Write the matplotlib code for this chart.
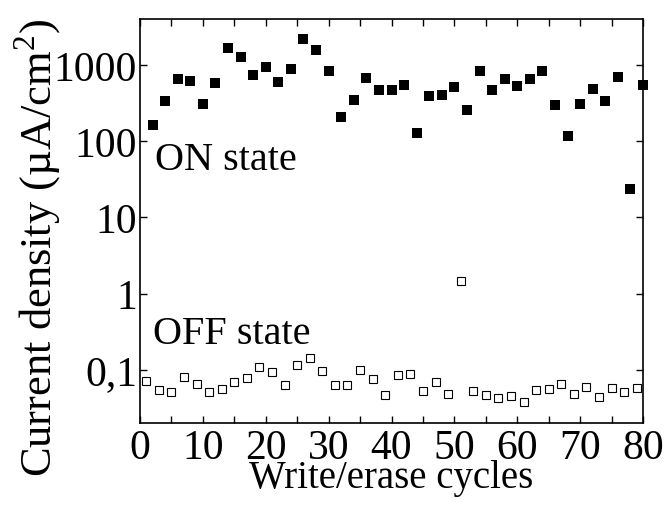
import matplotlib
matplotlib.use("Agg")
import matplotlib.pyplot as plt
from matplotlib.ticker import FixedLocator, FixedFormatter, LogLocator, NullFormatter, MultipleLocator

plt.rcParams['font.family'] = ['Liberation Serif', 'DejaVu Serif']
plt.rcParams['mathtext.fontset'] = 'custom'
plt.rcParams['mathtext.rm'] = 'Liberation Serif'

on_cycles = list(range(2, 81, 2))
on_values = [165, 339, 644, 618, 307, 577, 1650, 1259, 741, 942,
             594, 887, 2163, 1553, 843, 210, 346, 664, 468, 462,
             537, 126, 386, 402, 506, 254, 827, 472, 650, 527,
             657, 843, 295, 117, 307, 482, 333, 684, 23.7, 537]

off_cycles = list(range(1, 80, 2))
off_values = [0.0705, 0.0548, 0.0516, 0.081, 0.065, 0.0506, 0.056, 0.0684, 0.0778, 0.110,
              0.094, 0.063, 0.114, 0.142, 0.095, 0.0637, 0.063, 0.098, 0.0755, 0.0468,
              0.086, 0.087, 0.052, 0.069, 0.048, 1.45, 0.052, 0.046, 0.042, 0.0454,
              0.0375, 0.0548, 0.0565, 0.0644, 0.0487, 0.0594, 0.0436, 0.0577, 0.0516, 0.0583]

x_ticks = [0, 10, 20, 30, 40, 50, 60, 70, 80]
y_ticks = [0.1, 1, 10, 100, 1000]
y_tick_labels = ['0,1', '1', '10', '100', '1000']

fig = plt.figure(figsize=(6.65, 5.1), dpi=100)
ax = fig.add_axes([140/665, 86/510, 503/665, 404/510])

ax.plot(on_cycles, on_values, linestyle='none', marker='s', markersize=6.8,
        color='black', markeredgewidth=0, clip_on=False)
ax.plot(off_cycles, off_values, linestyle='none', marker='s', markersize=6.0,
        markerfacecolor='white', markeredgecolor='black', markeredgewidth=0.8, clip_on=False)

ax.set_yscale('log')
ax.set_xlim(0, 80)
ax.set_ylim(0.02, 4000)

ax.xaxis.set_major_locator(FixedLocator(x_ticks))
ax.xaxis.set_minor_locator(MultipleLocator(5))
ax.yaxis.set_major_locator(FixedLocator(y_ticks))
ax.yaxis.set_major_formatter(FixedFormatter(y_tick_labels))
ax.yaxis.set_minor_locator(LogLocator(base=10, subs=range(2, 10)))
ax.yaxis.set_minor_formatter(NullFormatter())

ax.tick_params(which='both', direction='in', top=True, right=True, width=1)
ax.tick_params(which='major', length=5, labelsize=30)
ax.tick_params(which='minor', length=3)
ax.tick_params(axis='x', which='minor', length=5)
ax.tick_params(axis='x', pad=4)
ax.tick_params(axis='y', pad=2)

for s in ax.spines.values():
    s.set_linewidth(1.2)

ax.text(2.4, 43, 'ON state', fontsize=29, ha='left', va='baseline')
ax.text(2.1, 0.225, 'OFF state', fontsize=29, ha='left', va='baseline')

fig.text((140 + 643) / 2 / 665, 1 - 488/510, 'Write/erase cycles', fontsize=28,
         ha='center', va='baseline')
fig.text(0.058, 1 - 248/510, 'Current density (µA/cm$^{\\mathrm{2}}$)', fontsize=32,
         rotation=90, ha='center', va='center')

fig.savefig('out.png', dpi=100)
